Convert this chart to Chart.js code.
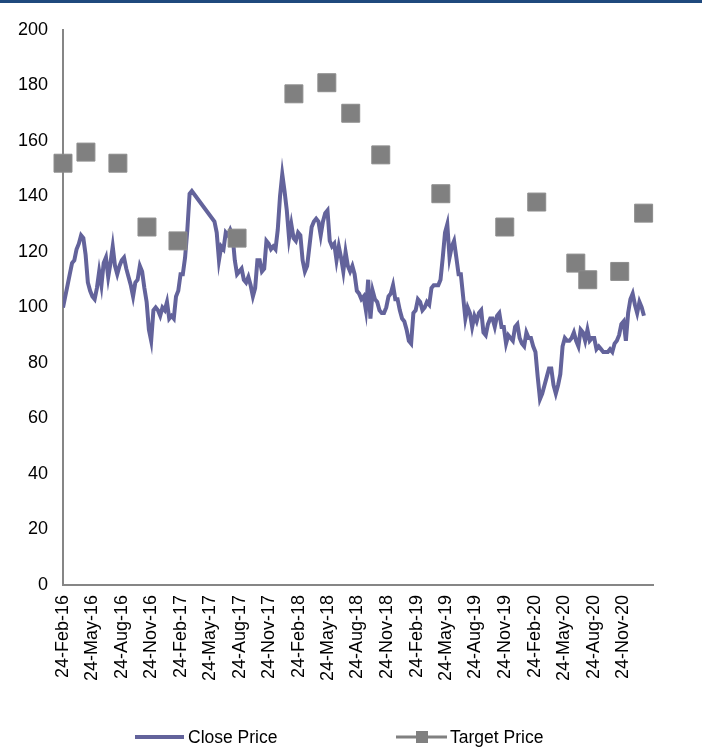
<!DOCTYPE html>
<html>
<head>
<meta charset="utf-8">
<script src="https://cdn.jsdelivr.net/npm/chart.js@4.4.1/dist/chart.umd.min.js"></script>
<style>
  html, body { margin: 0; padding: 0; background: #ffffff; }
  #wrap { position: relative; width: 702px; height: 751px; overflow: hidden; background: #ffffff; }
  #topRule { position: absolute; left: 0; top: 0; width: 702px; height: 3px; background: #1F497D; }
  #chart { position: absolute; left: 0; top: 0; }
  #legend { position: absolute; left: 0; top: 727px; width: 702px; height: 20px;
            font: 17.5px "Liberation Sans", Arial, sans-serif; color: #000; }
  .item { position: absolute; top: 0; height: 20px; display: flex; align-items: center; white-space: nowrap; }
  .swatch { position: relative; height: 20px; }
  .bar { position: absolute; left: 0; right: 0; top: 50%; transform: translateY(-50%); }
  .sq { position: absolute; top: 50%; left: 50%; width: 12px; height: 12px; transform: translate(-50%, -50%); background: #808080; }
</style>
</head>
<body>
<div id="wrap">
  <canvas id="chart" width="702" height="751"></canvas>
  <div id="topRule"></div>
  <div id="legend">
    <div class="item" style="left:135px">
      <span class="swatch" style="width:49px"><span class="bar" style="height:4px;background:#63639B"></span></span>
      <span style="margin-left:4px">Close Price</span>
    </div>
    <div class="item" style="left:396px">
      <span class="swatch" style="width:51px"><span class="bar" style="height:3px;background:#808080"></span><span class="sq"></span></span>
      <span style="margin-left:3px">Target Price</span>
    </div>
  </div>
</div>
<script>
// Quarterly axis labels and the end of the date axis
const tickLabels = ['24-Feb-16','24-May-16','24-Aug-16','24-Nov-16','24-Feb-17','24-May-17','24-Aug-17','24-Nov-17',
  '24-Feb-18','24-May-18','24-Aug-18','24-Nov-18','24-Feb-19','24-May-19','24-Aug-19','24-Nov-19',
  '24-Feb-20','24-May-20','24-Aug-20','24-Nov-20'];
const axisEnd = '24-Feb-21';

// Weekly closing prices starting 24-Feb-16 (null = no quotes, line bridges the gap)
const closeStart = '24-Feb-16';
const closePrices = [
  100,104,108,112,116,117,121,123,126,125,119,109,106,104,103,107,113,108,116,118,
  111,116,122,115,112,115,117,118,114,111,108,104,109,110,115,113,107,102,92,88,
  99,100,99,97,100,99,102,96,97,96,104,106,112,112,118,128,141,142,
  null,null,null,null,null,null,null,null,null,
  131,127,117,122,121,127,126,128,126,117,112,113,114,110,109,111,108,104,107,117,
  117,113,114,124,123,121,122,121,128,140,148,142,135,125,130,125,124,127,126,117,
  113,115,122,129,131,132,131,126,131,134,135,124,122,123,117,122,118,113,120,115,
  113,115,112,106,105,103,104,99,110,96,106,103,102,99,98,98,100,104,105,108,
  103,103,99,96,95,92,88,87,98,99,103,102,99,100,102,101,107,108,108,108,
  110,118,127,130,118,122,124,118,112,112,104,96,100,98,93,97,95,98,99,91,
  90,94,96,96,93,97,98,93,93,87,90,89,88,93,94,89,87,86,91,89,
  89,86,84,75,67,69,72,75,78,78,72,69,72,76,86,89,88,88,89,91,
  88,86,92,91,88,92,88,89,89,85,86,85,84,84,84,85,84,87,88,90,
  94,95,88,98,103,105,101,98,102,100,97
];

// Analyst target prices
const targetDates = ['24-Feb-16','5-May-16','12-Aug-16','10-Nov-16','14-Feb-17','16-Aug-17','8-Feb-18','21-May-18',
  '3-Aug-18','4-Nov-18','9-May-19','23-Nov-19','1-Mar-20','30-Jun-20','6-Aug-20','13-Nov-20','26-Jan-21'];
const targetPrices = [152,156,152,129,124,125,177,181,170,155,141,129,138,116,110,113,134];

const MONTHS = {Jan:0,Feb:1,Mar:2,Apr:3,May:4,Jun:5,Jul:6,Aug:7,Sep:8,Oct:9,Nov:10,Dec:11};
function toUTC(label) {
  const [d, m, y] = label.split('-');
  return Date.UTC(2000 + Number(y), MONTHS[m], Number(d));
}
const BASE = toUTC(closeStart);
const dayOf = label => Math.round((toUTC(label) - BASE) / 86400000);

const closePoints = closePrices.map((v, k) => ({ x: k * 7, y: v }));
const targetPoints = targetPrices.map((v, i) => ({ x: dayOf(targetDates[i]), y: v }));
const tickDays = tickLabels.map(dayOf);
const labelByDay = new Map(tickDays.map((d, i) => [d, tickLabels[i]]));

const FONT = '"Liberation Sans", Arial, sans-serif';

new Chart(document.getElementById('chart'), {
  type: 'line',
  data: {
    datasets: [
      {
        label: 'Close Price',
        data: closePoints,
        borderColor: '#63639B',
        borderWidth: 4,
        pointRadius: 0,
        tension: 0,
        spanGaps: true,
        fill: false,
        order: 2
      },
      {
        label: 'Target Price',
        data: targetPoints,
        showLine: false,
        clip: false,
        pointStyle: 'rect',
        pointRadius: 12.7,
        pointBackgroundColor: '#808080',
        pointBorderColor: '#8C8C8C',
        pointBorderWidth: 1,
        order: 1
      }
    ]
  },
  options: {
    responsive: false,
    animation: false,
    layout: { padding: { left: 0, right: 49, top: 30, bottom: 46 } },
    plugins: { legend: { display: false }, tooltip: { enabled: false } },
    scales: {
      x: {
        type: 'linear',
        min: 0,
        max: dayOf(axisEnd),
        grid: { display: false, drawTicks: false },
        border: { display: true, color: '#868686', width: 2 },
        afterBuildTicks: scale => { scale.ticks = tickDays.map(v => ({ value: v })); },
        afterFit: scale => { scale.height = 120; },
        ticks: {
          autoSkip: false,
          maxRotation: 90,
          minRotation: 90,
          padding: 10,
          color: '#000',
          font: { family: FONT, size: 18 },
          callback: v => labelByDay.get(v) || ''
        }
      },
      y: {
        min: 0,
        max: 200,
        grid: { display: false, drawTicks: false },
        border: { display: true, color: '#868686', width: 2 },
        afterFit: scale => { scale.width = 63; },
        ticks: {
          stepSize: 20,
          padding: 15,
          color: '#000',
          font: { family: FONT, size: 18 }
        }
      }
    }
  }
});
</script>
</body>
</html>
